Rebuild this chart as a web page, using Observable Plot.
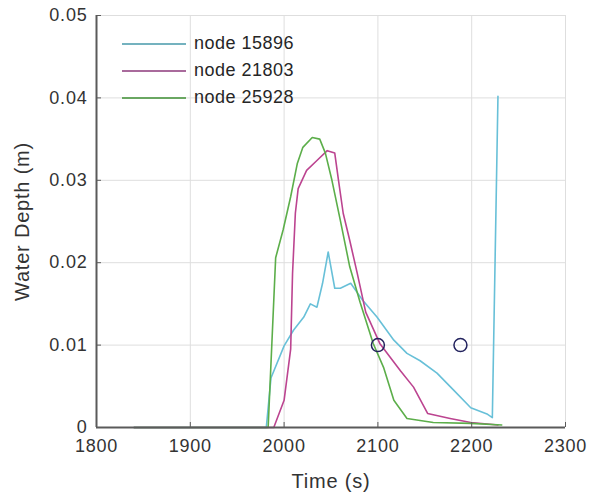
<!DOCTYPE html>
<html>
<head>
<meta charset="utf-8">
<script src="https://cdn.jsdelivr.net/npm/d3@7"></script>
<script src="https://cdn.jsdelivr.net/npm/@observablehq/plot@0.6"></script>
<style>
  html, body { margin: 0; padding: 0; background: #fff; }
  #wrap { position: relative; width: 598px; height: 497px; }
  #legend { position: absolute; left: 122px; top: 30px; font-family: "Liberation Sans", Arial, sans-serif; font-size: 18px; letter-spacing: 0.5px; color: #262626; }
  #legend .row { display: flex; align-items: center; height: 27px; }
  #legend svg { margin-right: 8px; }
</style>
</head>
<body>
<div id="wrap"><div id="legend"></div></div>
<script>
// ---- data ----
const seriesNames = ["node 15896", "node 21803", "node 25928"];
const seriesColors = ["#68c0d8", "#bc4490", "#5cae4a"];
const legendColors = ["#74b2bf", "#a96a9c", "#6aa762"];

const t15896 = [1840, 1981, 1986, 2000, 2010, 2021, 2028, 2035, 2041, 2047, 2054, 2060, 2071, 2084, 2099, 2117, 2131, 2145, 2163, 2181, 2199, 2217, 2222, 2228];
const d15896 = [0, 0, 0.0060, 0.0099, 0.0118, 0.0134, 0.0150, 0.0146, 0.0175, 0.0213, 0.0169, 0.0169, 0.0175, 0.0154, 0.0134, 0.0106, 0.0090, 0.0081, 0.0066, 0.0045, 0.0024, 0.0016, 0.0012, 0.0402];

const t21803 = [1840, 1989, 2000, 2007, 2009, 2012, 2015, 2024, 2035, 2046, 2054, 2058, 2063, 2070, 2078, 2087, 2102, 2124, 2138, 2153, 2177, 2199, 2228];
const d21803 = [0, 0, 0.0033, 0.0095, 0.0187, 0.0260, 0.0290, 0.0312, 0.0324, 0.0336, 0.0333, 0.0300, 0.0260, 0.0227, 0.0187, 0.0140, 0.0102, 0.0069, 0.0049, 0.0017, 0.0011, 0.0006, 0.0003];

const t25928 = [1840, 1983, 1991, 1999, 2007, 2014, 2020, 2030, 2038, 2044, 2051, 2060, 2070, 2081, 2095, 2106, 2117, 2131, 2159, 2199, 2232];
const d25928 = [0, 0, 0.0206, 0.0240, 0.0280, 0.0320, 0.0340, 0.0352, 0.0350, 0.0333, 0.0300, 0.0251, 0.0195, 0.0152, 0.0102, 0.0073, 0.0033, 0.0011, 0.0006, 0.0005, 0.0003];

const markerTimes = [2100, 2188];
const markerDepths = [0.01, 0.01];

const xTicks = [1800, 1900, 2000, 2100, 2200, 2300];
const yTicks = [0, 0.01, 0.02, 0.03, 0.04, 0.05];
const yTickLabels = ["0", "0.01", "0.02", "0.03", "0.04", "0.05"];

// ---- build ----
const times = [t15896, t21803, t25928];
const depths = [d15896, d21803, d25928];
const rows = [];
seriesNames.forEach((name, s) => {
  times[s].forEach((t, i) => rows.push({series: name, t, d: depths[s][i]}));
});
const markers = markerTimes.map((t, i) => ({t, d: markerDepths[i]}));

const font = '"Liberation Sans", Arial, sans-serif';
const axisColor = "#5a5a5a";
const textColor = "#333";

const chart = Plot.plot({
  width: 598,
  height: 497,
  marginLeft: 96,
  marginRight: 33,
  marginTop: 15,
  marginBottom: 70,
  style: {fontFamily: font, fontSize: "18px", color: textColor, background: "#fff", letterSpacing: "0.8px"},
  x: {type: "linear", domain: [1800, 2300]},
  y: {type: "linear", domain: [0, 0.05]},
  color: {domain: seriesNames, range: seriesColors},
  marks: [
    Plot.gridX(xTicks, {stroke: "#dedede", strokeOpacity: 1, strokeWidth: 1}),
    Plot.gridY(yTicks, {stroke: "#dedede", strokeOpacity: 1, strokeWidth: 1}),
    Plot.line(rows, {x: "t", y: "d", z: "series", stroke: "series", strokeWidth: 1.6, curve: "linear"}),
    Plot.dot(markers, {x: "t", y: "d", r: 6.5, stroke: "#23235e", strokeWidth: 1.5, fill: "none"}),
    Plot.ruleX([1800], {stroke: axisColor, strokeWidth: 2}),
    Plot.ruleY([0], {stroke: axisColor, strokeWidth: 2}),
    Plot.axisX(xTicks, {tickSize: -5, stroke: axisColor, text: null, label: null}),
    Plot.axisY(yTicks, {tickSize: -5, stroke: axisColor, text: null, label: null}),
    Plot.axisX(xTicks, {tickSize: 0, tickPadding: 12, fontSize: 18, label: null, tickFormat: d => String(d), color: textColor}),
    Plot.axisY(yTicks, {tickSize: 0, tickPadding: 9, fontSize: 18, label: null, tickFormat: (d, i) => yTickLabels[i], color: textColor}),
    Plot.axisX({ticks: [], label: "Time (s)", labelAnchor: "center", labelArrow: "none", labelOffset: 60, fontSize: 20}),
    Plot.axisY({ticks: [], label: "Water Depth (m)", labelAnchor: "center", labelArrow: "none", labelOffset: 82, fontSize: 20})
  ]
});
document.getElementById("wrap").prepend(chart);

// legend overlay
const legend = document.getElementById("legend");
seriesNames.forEach((name, i) => {
  const row = document.createElement("div");
  row.className = "row";
  row.innerHTML = `<svg width="64" height="4"><line x1="0" y1="2" x2="64" y2="2" stroke="${legendColors[i]}" stroke-width="2"/></svg><span>${name}</span>`;
  legend.appendChild(row);
});
</script>
</body>
</html>
